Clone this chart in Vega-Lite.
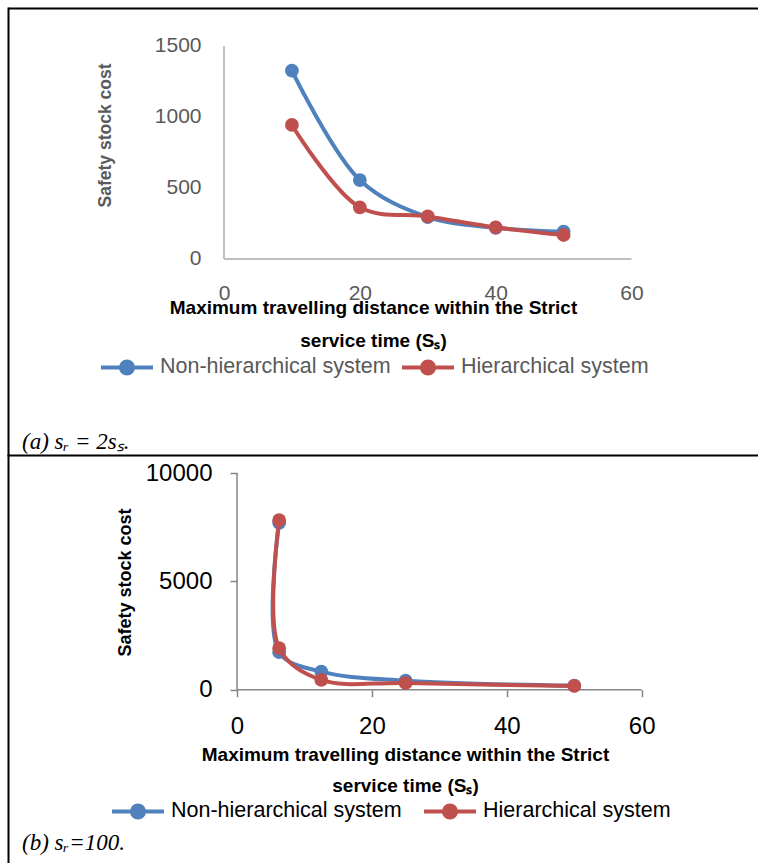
{
  "$schema": "https://vega.github.io/schema/vega-lite/v6.json",
  "usermeta": {"embedOptions": {"actions": false}},
  "autosize": {"type": "pad"},
  "padding": {"left": 8, "top": 8, "right": 0, "bottom": 0},
  "background": "white",
  "config": {"font": "Liberation Sans"},
  "spacing": 0,
  "bounds": "flush",
  "resolve": {"scale": {"color": "independent", "x": "independent", "y": "independent"}, "legend": {"color": "independent"}},
  "datasets": {
    "a": [
      {"series": "Non-hierarchical system", "idx": 1, "distance": 10, "cost": 1326},
      {"series": "Non-hierarchical system", "idx": 2, "distance": 20, "cost": 556},
      {"series": "Non-hierarchical system", "idx": 3, "distance": 30, "cost": 295},
      {"series": "Non-hierarchical system", "idx": 4, "distance": 40, "cost": 220},
      {"series": "Non-hierarchical system", "idx": 5, "distance": 50, "cost": 192},
      {"series": "Hierarchical system", "idx": 1, "distance": 10, "cost": 944},
      {"series": "Hierarchical system", "idx": 2, "distance": 20, "cost": 364},
      {"series": "Hierarchical system", "idx": 3, "distance": 30, "cost": 300},
      {"series": "Hierarchical system", "idx": 4, "distance": 40, "cost": 223},
      {"series": "Hierarchical system", "idx": 5, "distance": 50, "cost": 169}
    ],
    "b": [
      {"series": "Non-hierarchical system", "idx": 1, "distance": 6.25, "cost": 7700},
      {"series": "Non-hierarchical system", "idx": 2, "distance": 6.25, "cost": 1730},
      {"series": "Non-hierarchical system", "idx": 3, "distance": 12.5, "cost": 833},
      {"series": "Non-hierarchical system", "idx": 4, "distance": 25, "cost": 417},
      {"series": "Non-hierarchical system", "idx": 5, "distance": 50, "cost": 190},
      {"series": "Hierarchical system", "idx": 1, "distance": 6.25, "cost": 7820},
      {"series": "Hierarchical system", "idx": 2, "distance": 6.25, "cost": 1917},
      {"series": "Hierarchical system", "idx": 3, "distance": 12.5, "cost": 449},
      {"series": "Hierarchical system", "idx": 4, "distance": 25, "cost": 310},
      {"series": "Hierarchical system", "idx": 5, "distance": 50, "cost": 175}
    ]
  },
  "vconcat": [
    {
      "width": 750,
      "height": 447,
      "view": {"stroke": null},
      "title": {"text": "(a) sᵣ = 2sₛ.", "orient": "bottom", "anchor": "start", "frame": "bounds", "offset": -6, "dx": 14, "baseline": "alphabetic", "font": "Liberation Serif", "fontStyle": "italic", "fontWeight": "normal", "fontSize": 23, "color": "black"},
      "data": {"name": "a"},
      "resolve": {"axis": {"x": "independent", "y": "independent"}},
      "layer": [
        {
          "data": {"values": [{}]},
          "mark": {"type": "rule", "color": "#BFBFBF", "strokeWidth": 2},
          "encoding": {
            "x": {"datum": 0, "type": "quantitative",
              "scale": {"domain": [-31.8, 78.62], "nice": false, "zero": false},
              "axis": {"orient": "bottom", "offset": -196, "values": [0, 20, 40, 60], "format": "d", "domain": false, "grid": false, "ticks": false, "labelPadding": 23, "labelFontSize": 21, "labelColor": "#595959", "labelFlush": false, "labelOverlap": false,
                "title": ["Maximum travelling distance within the Strict", "service time (Sₛ)"], "titleX": 365, "titleY": 39, "titleAlign": "center", "titleBaseline": "top", "titleAngle": 0, "titleFontSize": 19, "titleFontWeight": "bold", "titleColor": "black", "titleLineHeight": 33}},
            "y": {"datum": 0, "type": "quantitative",
              "scale": {"domain": [-1380.3, 1767.6], "nice": false, "zero": false},
              "axis": {"orient": "left", "offset": -216, "values": [0, 500, 1000, 1500], "format": "d", "domain": false, "grid": false, "ticks": false, "labelPadding": 23, "labelFontSize": 21, "labelColor": "#595959", "labelOverlap": false,
                "title": "Safety stock cost", "titleX": -119, "titleY": 127, "titleAlign": "center", "titleBaseline": "middle", "titleAngle": -90, "titleFontSize": 17.5, "titleFontWeight": "bold", "titleColor": "#595959"}},
            "y2": {"datum": 1500}
          }
        },
        {
          "data": {"values": [{}]},
          "mark": {"type": "rule", "color": "#BFBFBF", "strokeWidth": 2},
          "encoding": {
            "x": {"datum": 0, "type": "quantitative",
              "axis": {"orient": "top", "offset": 0, "domain": true, "domainColor": "black", "domainWidth": 2, "domainCap": "butt", "ticks": false, "labels": false, "grid": false, "title": null}},
            "x2": {"datum": 60},
            "y": {"datum": 0, "type": "quantitative",
              "axis": {"orient": "right", "offset": -750, "domain": true, "domainColor": "black", "domainWidth": 2, "domainCap": "square", "ticks": false, "labels": false, "grid": false, "title": null}}
          }
        },
        {
          "transform": [{"filter": "datum.series === 'Non-hierarchical system'"}],
          "mark": {"type": "line", "interpolate": "catmull-rom", "strokeWidth": 4},
          "encoding": {
            "x": {"field": "distance", "type": "quantitative", "axis": null},
            "y": {"field": "cost", "type": "quantitative", "axis": null},
            "order": {"field": "idx", "type": "quantitative"},
            "color": {"field": "series", "type": "nominal",
              "scale": {"domain": ["Non-hierarchical system", "Hierarchical system"], "range": ["#4F81BD", "#C0504D"]},
              "legend": {"orient": "none", "legendX": 91, "legendY": 331, "direction": "horizontal", "title": null, "padding": 0,
                "symbolType": "M-1,0H1M0.2308,0A0.2308,0.2308,0,1,1,-0.2308,0A0.2308,0.2308,0,1,1,0.2308,0M0.0769,0A0.0769,0.0769,0,1,1,-0.0769,0A0.0769,0.0769,0,1,1,0.0769,0",
                "symbolSize": 2704, "symbolStrokeWidth": 4, "labelFont": "Liberation Sans", "labelFontSize": 21.5, "labelColor": "#595959", "labelLimit": 400, "labelOffset": 5, "columnPadding": 3}}
          }
        },
        {
          "transform": [{"filter": "datum.series === 'Non-hierarchical system'"}],
          "mark": {"type": "point", "filled": true, "size": 190, "opacity": 1},
          "encoding": {
            "x": {"field": "distance", "type": "quantitative", "axis": null},
            "y": {"field": "cost", "type": "quantitative", "axis": null},
            "color": {"field": "series", "type": "nominal", "legend": null}
          }
        },
        {
          "transform": [{"filter": "datum.series === 'Hierarchical system'"}],
          "mark": {"type": "line", "interpolate": "catmull-rom", "strokeWidth": 4},
          "encoding": {
            "x": {"field": "distance", "type": "quantitative", "axis": null},
            "y": {"field": "cost", "type": "quantitative", "axis": null},
            "order": {"field": "idx", "type": "quantitative"},
            "color": {"field": "series", "type": "nominal", "legend": null}
          }
        },
        {
          "transform": [{"filter": "datum.series === 'Hierarchical system'"}],
          "mark": {"type": "point", "filled": true, "size": 190, "opacity": 1},
          "encoding": {
            "x": {"field": "distance", "type": "quantitative", "axis": null},
            "y": {"field": "cost", "type": "quantitative", "axis": null},
            "color": {"field": "series", "type": "nominal", "legend": null}
          }
        }
      ]
    },
    {
      "width": 750,
      "height": 408,
      "view": {"stroke": null},
      "title": {"text": "(b) sᵣ=100.", "orient": "bottom", "anchor": "start", "frame": "bounds", "offset": -13, "dx": 14, "baseline": "alphabetic", "font": "Liberation Serif", "fontStyle": "italic", "fontWeight": "normal", "fontSize": 23, "color": "black"},
      "data": {"name": "b"},
      "resolve": {"axis": {"x": "independent", "y": "independent"}},
      "layer": [
        {
          "data": {"values": [{}]},
          "mark": {"type": "rule", "color": "#868686", "strokeWidth": 1.5},
          "encoding": {
            "x": {"datum": 0, "type": "quantitative",
              "scale": {"domain": [-33.95, 77.24], "nice": false, "zero": false},
              "axis": {"orient": "bottom", "offset": -173.3, "values": [0, 20, 40, 60], "format": "d", "domain": false, "grid": false, "ticks": true, "tickSize": 7, "tickColor": "#868686", "tickWidth": 1.5, "labelPadding": 18, "labelFontSize": 24, "labelColor": "black", "labelFlush": false, "labelOverlap": false,
                "title": ["Maximum travelling distance within the Strict", "service time (Sₛ)"], "titleX": 397, "titleY": 56, "titleAlign": "center", "titleBaseline": "top", "titleAngle": 0, "titleFontSize": 19, "titleFontWeight": "bold", "titleColor": "black", "titleLineHeight": 31}},
            "y": {"datum": 0, "type": "quantitative",
              "scale": {"domain": [-7997, 10831], "nice": false, "zero": false},
              "axis": {"orient": "left", "offset": -229, "values": [0, 5000, 10000], "format": "d", "domain": false, "grid": false, "ticks": true, "tickSize": 7, "tickColor": "#868686", "tickWidth": 1.5, "labelPadding": 18, "labelFontSize": 24, "labelColor": "black", "labelOverlap": false,
                "title": "Safety stock cost", "titleX": -112, "titleY": 127, "titleAlign": "center", "titleBaseline": "middle", "titleAngle": -90, "titleFontSize": 18, "titleFontWeight": "bold", "titleColor": "black"}},
            "y2": {"datum": 10000}
          }
        },
        {
          "data": {"values": [{}]},
          "mark": {"type": "rule", "color": "#868686", "strokeWidth": 1.5},
          "encoding": {
            "x": {"datum": 0, "type": "quantitative",
              "axis": {"orient": "top", "offset": 0, "domain": true, "domainColor": "black", "domainWidth": 2, "domainCap": "butt", "ticks": false, "labels": false, "grid": false, "title": null}},
            "x2": {"datum": 60},
            "y": {"datum": 0, "type": "quantitative",
              "axis": {"orient": "right", "offset": -750, "domain": true, "domainColor": "black", "domainWidth": 2, "domainCap": "square", "ticks": false, "labels": false, "grid": false, "title": null}}
          }
        },
        {
          "transform": [{"filter": "datum.series === 'Non-hierarchical system'"}],
          "mark": {"type": "line", "interpolate": "catmull-rom", "strokeWidth": 4},
          "encoding": {
            "x": {"field": "distance", "type": "quantitative", "axis": null},
            "y": {"field": "cost", "type": "quantitative", "axis": null},
            "order": {"field": "idx", "type": "quantitative"},
            "color": {"field": "series", "type": "nominal",
              "scale": {"domain": ["Non-hierarchical system", "Hierarchical system"], "range": ["#4F81BD", "#C0504D"]},
              "legend": {"orient": "none", "legendX": 102, "legendY": 328, "direction": "horizontal", "title": null, "padding": 0,
                "symbolType": "M-1,0H1M0.2308,0A0.2308,0.2308,0,1,1,-0.2308,0A0.2308,0.2308,0,1,1,0.2308,0M0.0769,0A0.0769,0.0769,0,1,1,-0.0769,0A0.0769,0.0769,0,1,1,0.0769,0",
                "symbolSize": 2704, "symbolStrokeWidth": 4, "labelFont": "Liberation Sans", "labelFontSize": 21.5, "labelColor": "black", "labelLimit": 400, "labelOffset": 5, "columnPadding": 14}}
          }
        },
        {
          "transform": [{"filter": "datum.series === 'Non-hierarchical system'"}],
          "mark": {"type": "point", "filled": true, "size": 190, "opacity": 1},
          "encoding": {
            "x": {"field": "distance", "type": "quantitative", "axis": null},
            "y": {"field": "cost", "type": "quantitative", "axis": null},
            "color": {"field": "series", "type": "nominal", "legend": null}
          }
        },
        {
          "transform": [{"filter": "datum.series === 'Hierarchical system'"}],
          "mark": {"type": "line", "interpolate": "catmull-rom", "strokeWidth": 4},
          "encoding": {
            "x": {"field": "distance", "type": "quantitative", "axis": null},
            "y": {"field": "cost", "type": "quantitative", "axis": null},
            "order": {"field": "idx", "type": "quantitative"},
            "color": {"field": "series", "type": "nominal", "legend": null}
          }
        },
        {
          "transform": [{"filter": "datum.series === 'Hierarchical system'"}],
          "mark": {"type": "point", "filled": true, "size": 190, "opacity": 1},
          "encoding": {
            "x": {"field": "distance", "type": "quantitative", "axis": null},
            "y": {"field": "cost", "type": "quantitative", "axis": null},
            "color": {"field": "series", "type": "nominal", "legend": null}
          }
        }
      ]
    }
  ]
}
